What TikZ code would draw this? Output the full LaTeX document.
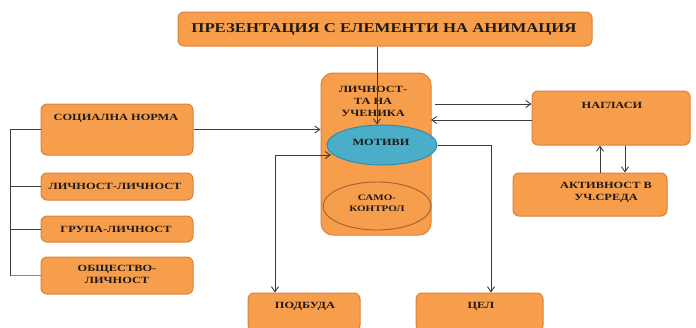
\documentclass[tikz,border=0pt]{standalone}
\usepackage{fontspec}
\setmainfont{Liberation Serif}
\newfontfamily\lbl[FakeStretch=1.3]{Liberation Serif}
\newfontfamily\ttl[FakeStretch=1.24]{Liberation Serif}
\usetikzlibrary{shapes.geometric,arrows.meta,calc}
\definecolor{boxfill}{HTML}{F79E4C}
\definecolor{boxdraw}{HTML}{D9823C}
\definecolor{motfill}{HTML}{4BADC8}
\definecolor{motdraw}{HTML}{2F8DAE}
\definecolor{samodraw}{HTML}{A0612A}
\definecolor{linec}{HTML}{3C3C3C}
\definecolor{txt}{HTML}{1E1A16}
\tikzset{
  obox/.style={draw=boxdraw, fill=boxfill, line width=1pt, rounded corners=6pt, inner sep=0pt},
  t/.style={font=\lbl\bfseries\fontsize{9.5}{12}\selectfont, text=txt, align=center, inner sep=0pt},
  conn/.style={draw=linec, line width=0.9pt},
  arr/.style={conn, -{Straight Barb[length=5pt,width=7pt]}},
  darr/.style={conn, {Straight Barb[length=5pt,width=7pt]}-{Straight Barb[length=5pt,width=7pt]}}
}
\begin{document}
\begin{tikzpicture}[x=1pt,y=-1pt]
\useasboundingbox (0,0) rectangle (696,327);
% boxes
\node[obox, minimum width=414, minimum height=34] (title) at (385,29) {};
\node[font=\ttl\bfseries\fontsize{13.5}{16}\selectfont, text=txt, inner sep=0pt] (titlet) at (384,29) {ПРЕЗЕНТАЦИЯ С ЕЛЕМЕНТИ НА АНИМАЦИЯ};
\node[obox, rounded corners=12pt, minimum width=110, minimum height=162] (big) at (376,154) {};
\node[t] (bigt) at (373,101) {ЛИЧНОСТ-\\ТА НА\\УЧЕНИКА};
\node[draw=samodraw, line width=0.9pt, ellipse, minimum width=108, minimum height=48, inner sep=0pt] (samo) at (377,206) {};
\node[t, font=\lbl\bfseries\fontsize{8.5}{11}\selectfont] (samot) at (377,203) {САМО-\\КОНТРОЛ};
\node[draw=motdraw, fill=motfill, line width=1pt, ellipse, minimum width=110, minimum height=40, inner sep=0pt] (motivi) at (382,145) {};
\node[t] (motivit) at (381,142) {МОТИВИ};
\node[obox, minimum width=152, minimum height=51] (soc) at (117,129.5) {};
\node[t] (soct) at (116,118) {СОЦИАЛНА НОРМА};
\node[obox, minimum width=152, minimum height=27] (lich) at (117,186.5) {};
\node[t] (licht) at (115,186.5) {ЛИЧНОСТ-ЛИЧНОСТ};
\node[obox, minimum width=152, minimum height=26] (grupa) at (117,229) {};
\node[t] (grupat) at (116,229.5) {ГРУПА-ЛИЧНОСТ};
\node[obox, minimum width=152, minimum height=37] (obsht) at (117,275.5) {};
\node[t] (obshtt) at (117,274) {ОБЩЕСТВО-\\ЛИЧНОСТ};
\node[obox, minimum width=158, minimum height=54] (nagl) at (611,118) {};
\node[t] (naglt) at (612,105) {НАГЛАСИ};
\node[obox, minimum width=154, minimum height=43] (aktiv) at (590,194.5) {};
\node[t] (aktivt) at (606,192.5) {АКТИВНОСТ В\\УЧ.СРЕДА};
\node[obox, minimum width=112, minimum height=38] (podb) at (304,312) {};
\node[t] (podbt) at (305,306) {ПОДБУДА};
\node[obox, minimum width=127, minimum height=38] (cel) at (479.5,312) {};
\node[t] (celt) at (481,306) {ЦЕЛ};
% helper coordinates
\coordinate (mi) at (331,155);
\coordinate (pd) at (275,0);
\coordinate (ce) at (491,0);
\coordinate (r1) at (435,104);
\coordinate (r2) at (431,120);
\coordinate (up) at (600,0);
\coordinate (dn) at (625,0);
% connectors
\draw[arr] (title.south -| 377,0) -- (motivi.north -| 377,0);
\draw[arr] (soc.east) -- (soc.east -| big.west);
\draw[conn] (soc.west) -- ++(-30,0) coordinate (br) |- (grupa.west);
\draw[conn] (br |- lich.west) -- (lich.west);
\draw[conn] (br |- grupa.west) -- (br |- obsht.west);
\draw[draw=blue!40!gray!70, line width=0.7pt] (br |- obsht.west) -- (obsht.west);
\draw[darr] (podb.north -| pd) |- (mi);
\draw[arr] (motivi.east) -| (cel.north -| ce);
\draw[arr] (r1) -- (r1 -| nagl.west);
\draw[arr] (nagl.west |- r2) -- (r2);
\draw[arr] (aktiv.north -| up) -- (nagl.south -| up);
\draw[arr] (nagl.south -| dn) -- (aktiv.north -| dn);
\end{tikzpicture}
\end{document}
